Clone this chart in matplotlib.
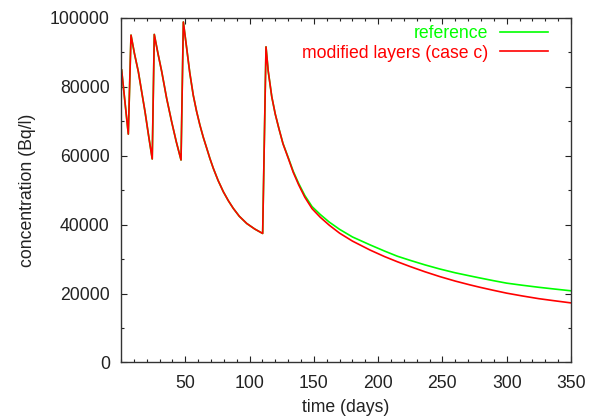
import matplotlib
matplotlib.use("Agg")
import matplotlib.pyplot as plt
from matplotlib.ticker import MultipleLocator

plt.rcParams["font.family"] = ["Liberation Sans", "DejaVu Sans"]

# time points (days) shared by both runs
dias = [0.5, 5.7, 7.8, 10.5, 13.5, 16, 18.7, 21.5, 24.3,
        25.9, 28.8, 31.7, 35.5, 39.4, 43, 46.7,
        48.5, 51.1, 53.5, 56.2, 58.8, 61.4, 64, 66.7, 69.2, 71.8, 75.5,
        79.6, 83.5, 87.3, 92, 97.8, 104, 110.2,
        112.8, 114.5, 117.3, 120, 122.7, 126, 130.4, 134, 138.2, 143,
        148.6, 155, 162, 170, 180, 193.7, 205, 215, 225, 236.4, 248, 260,
        271.4, 279.2, 290, 300, 312, 325, 337, 349.5]

# reference run (Bq/l)
conc_ref = [84800, 66200, 94900, 89500, 84300, 78700, 72700, 65700, 59000,
            95100, 89500, 84300, 76600, 69800, 64000, 58700,
            98700, 91100, 84000, 77500, 72800, 68800, 65300, 62100, 59100,
            56300, 52800, 49500, 46900, 44700, 42400, 40300, 38700, 37400,
            91500, 84500, 77000, 72000, 68000, 63500, 59100, 55400, 51900,
            48400, 45200, 42900, 40700, 38600, 36400, 34100, 32300, 30800,
            29600, 28300, 27100, 26000, 25100, 24500, 23700, 23000, 22400,
            21800, 21300, 20800]

# modified layers, case c (Bq/l)
conc_mod = [84800, 66200, 94900, 89500, 84300, 78700, 72700, 65700, 59000,
            95100, 89500, 84300, 76600, 69800, 64000, 58700,
            98700, 91100, 84000, 77500, 72800, 68800, 65300, 62100, 59100,
            56300, 52800, 49500, 46900, 44700, 42400, 40300, 38700, 37400,
            91500, 84500, 77000, 72000, 68000, 63400, 58900, 55100, 51500,
            47900, 44600, 42100, 39800, 37500, 35200, 32600, 30700, 29200,
            27800, 26300, 24900, 23600, 22500, 21800, 20900, 20100, 19300,
            18500, 17900, 17300]

fig = plt.figure(figsize=(5.89, 4.17), dpi=100)
ax = fig.add_axes([0.2054, 0.1307, 0.764, 0.8273])

ax.plot(dias, conc_ref, color="#00ff00", lw=1.2, label="reference")
ax.plot(dias, conc_mod, color="#ff0000", lw=1.2, label="modified layers (case c)")

ax.set_xlim(0, 350)
ax.set_ylim(0, 100000)
ax.set_xticks([50, 100, 150, 200, 250, 300, 350])
ax.yaxis.set_major_locator(MultipleLocator(20000))
ax.xaxis.set_minor_locator(MultipleLocator(10))
ax.yaxis.set_minor_locator(MultipleLocator(10000))
ax.tick_params(which="both", direction="in", top=True, right=True,
               labelsize=12.7, colors="#222222", width=0.8)
ax.tick_params(which="major", length=4)
ax.tick_params(which="minor", length=2)
ax.tick_params(axis="y", pad=8)
ax.tick_params(axis="x", pad=9)
for s in ax.spines.values():
    s.set_linewidth(1.0)
    s.set_color("#333333")

ax.set_xlabel("time (days)", fontsize=12.7, labelpad=5, color="#222222")
ax.set_ylabel("concentration (Bq/l)", fontsize=12.7, labelpad=10, color="#222222")

# legend: text right-aligned, line sample on the right
ax.legend(loc="upper right", bbox_to_anchor=(0.949, 0.977), frameon=False,
          markerfirst=False, fontsize=12.7, handlelength=2.72,
          handletextpad=0.68, labelspacing=0.12, borderaxespad=0.0,
          borderpad=0.0, labelcolor="linecolor")

fig.savefig("out.png", dpi=100)
